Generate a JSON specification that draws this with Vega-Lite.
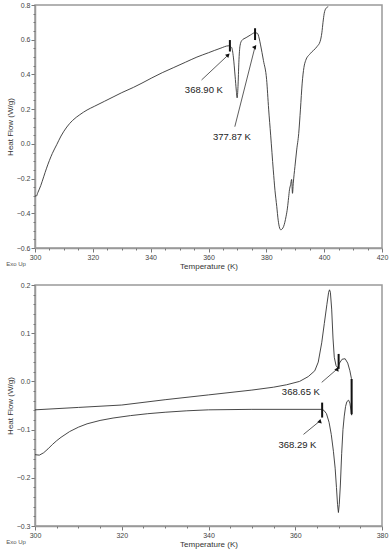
{
  "$schema": "https://vega.github.io/schema/vega-lite/v6.json",
  "background": "white",
  "padding": {"left": 5, "top": 0, "right": 6, "bottom": 1},
  "spacing": 9,
  "config": {
    "view": {"stroke": "#999", "strokeWidth": 1.5},
    "axis": {"labelFont": "Liberation Sans", "labelFontSize": 7, "labelColor": "#444", "titleFont": "Liberation Sans", "titleFontSize": 8, "titleFontWeight": "normal", "titleColor": "#333", "domainColor": "#999", "domainWidth": 1.5, "tickColor": "#777", "grid": false, "labelPadding": 1, "titlePadding": 2, "labelOverlap": false, "labelFlush": false}
  },
  "vconcat": [
    {
      "width": 347, "height": 243,
      "title": {"text": "Exo Up", "orient": "bottom", "anchor": "start", "frame": "bounds", "fontSize": 6, "font": "Liberation Sans", "fontWeight": "normal", "color": "#555", "offset": -9},
      "resolve": {"axis": {"x": "independent", "y": "independent"}},
      "layer": [
        {
          "data": {"values": [
            {"i":0,"T":300,"hf":-0.30},{"i":1,"T":300.5,"hf":-0.30},{"i":2,"T":301,"hf":-0.28},{"i":3,"T":302,"hf":-0.24},{"i":4,"T":303,"hf":-0.19},{"i":5,"T":304,"hf":-0.14},{"i":6,"T":305,"hf":-0.095},{"i":7,"T":306,"hf":-0.055},{"i":8,"T":307.5,"hf":-0.005},{"i":9,"T":309,"hf":0.045},{"i":10,"T":311,"hf":0.097},{"i":11,"T":313,"hf":0.135},{"i":12,"T":315.5,"hf":0.168},{"i":13,"T":318,"hf":0.195},{"i":14,"T":320.5,"hf":0.216},{"i":15,"T":324,"hf":0.245},{"i":16,"T":327,"hf":0.27},{"i":17,"T":330,"hf":0.295},{"i":18,"T":334,"hf":0.325},{"i":19,"T":337,"hf":0.35},{"i":20,"T":340.4,"hf":0.38},{"i":21,"T":344,"hf":0.41},{"i":22,"T":348,"hf":0.44},{"i":23,"T":352,"hf":0.47},{"i":24,"T":356,"hf":0.5},{"i":25,"T":360,"hf":0.525},{"i":26,"T":364,"hf":0.55},{"i":27,"T":367,"hf":0.565},{"i":28,"T":368,"hf":0.555},{"i":29,"T":368.6,"hf":0.5},{"i":30,"T":369.2,"hf":0.39},{"i":31,"T":369.6,"hf":0.31},{"i":32,"T":369.9,"hf":0.265},{"i":33,"T":370.2,"hf":0.33},{"i":34,"T":370.5,"hf":0.47},{"i":35,"T":370.9,"hf":0.565},{"i":36,"T":371.5,"hf":0.595},{"i":37,"T":373,"hf":0.612},{"i":38,"T":374.5,"hf":0.627},{"i":39,"T":376,"hf":0.64},{"i":40,"T":376.9,"hf":0.637},{"i":41,"T":377.5,"hf":0.61},{"i":42,"T":378,"hf":0.57},{"i":43,"T":379,"hf":0.48},{"i":44,"T":380.1,"hf":0.37},{"i":45,"T":380.8,"hf":0.2},{"i":46,"T":381.5,"hf":0.05},{"i":47,"T":382.4,"hf":-0.15},{"i":48,"T":383.0,"hf":-0.27},{"i":49,"T":383.6,"hf":-0.36},{"i":50,"T":384.1,"hf":-0.44},{"i":51,"T":384.6,"hf":-0.485},{"i":52,"T":385.0,"hf":-0.495},{"i":53,"T":385.5,"hf":-0.49},{"i":54,"T":386.0,"hf":-0.475},{"i":55,"T":386.8,"hf":-0.42},{"i":56,"T":387.3,"hf":-0.37},{"i":57,"T":387.7,"hf":-0.31},{"i":58,"T":388.0,"hf":-0.265},{"i":59,"T":388.4,"hf":-0.235},{"i":60,"T":388.75,"hf":-0.205},{"i":61,"T":389.05,"hf":-0.285},{"i":62,"T":389.3,"hf":-0.23},{"i":63,"T":389.9,"hf":-0.13},{"i":64,"T":390.5,"hf":-0.035},{"i":65,"T":391.2,"hf":0.06},{"i":66,"T":391.8,"hf":0.2},{"i":67,"T":392.4,"hf":0.35},{"i":68,"T":393.0,"hf":0.44},{"i":69,"T":393.6,"hf":0.48},{"i":70,"T":395.2,"hf":0.52},{"i":71,"T":397.5,"hf":0.56},{"i":72,"T":398.6,"hf":0.59},{"i":73,"T":399.2,"hf":0.64},{"i":74,"T":399.6,"hf":0.70},{"i":75,"T":400.0,"hf":0.75},{"i":76,"T":400.6,"hf":0.78},{"i":77,"T":401.4,"hf":0.79}
          ]},
          "mark": {"type": "line", "color": "#333", "strokeWidth": 0.9, "interpolate": "monotone"},
          "encoding": {
            "x": {"field": "T", "type": "quantitative", "scale": {"domain": [300, 420], "nice": false, "zero": false},
              "axis": {"title": "Temperature (K)", "format": "d", "orient": "bottom", "values": [300,320,340,360,380,400,420], "tickSize": 4}},
            "y": {"field": "hf", "type": "quantitative", "scale": {"domain": [-0.6, 0.8], "nice": false, "zero": false},
              "axis": {"title": "Heat Flow (W/g)", "format": ".1f", "orient": "left", "values": [-0.6,-0.4,-0.2,0,0.2,0.4,0.6,0.8], "tickSize": 4}},
            "order": {"field": "i", "type": "quantitative"}
          }
        },
        {
          "data": {"values": [{"T": 367.4, "lo": 0.532, "hi": 0.598}, {"T": 376.1, "lo": 0.598, "hi": 0.666}]},
          "mark": {"type": "rule", "color": "#111", "strokeWidth": 2},
          "encoding": {
            "x": {"field": "T", "type": "quantitative", "axis": {"orient": "bottom", "title": null, "labels": false, "domain": false, "tickSize": 2, "values": [305,310,315,325,330,335,345,350,355,365,370,375,385,390,395,405,410,415]}},
            "y": {"field": "lo", "type": "quantitative", "axis": {"orient": "left", "title": null, "labels": false, "domain": false, "tickSize": 2, "values": [-0.55,-0.5,-0.45,-0.35,-0.3,-0.25,-0.15,-0.1,-0.05,0.05,0.1,0.15,0.25,0.3,0.35,0.45,0.5,0.55,0.65,0.7,0.75]}},
            "y2": {"field": "hi"}
          }
        },
        {
          "data": {"values": [
            {"label": "368.90 K", "tx": 358.4, "ty": 0.31, "x1": 357.6, "y1": 0.368, "x2": 366.8, "y2": 0.512},
            {"label": "377.87 K", "tx": 368.1, "ty": 0.04, "x1": 369.1, "y1": 0.099, "x2": 376.1, "y2": 0.56}
          ]},
          "layer": [
            {"mark": {"type": "rule", "color": "#333", "strokeWidth": 0.8},
             "encoding": {"x": {"field": "x1", "type": "quantitative", "axis": null}, "y": {"field": "y1", "type": "quantitative", "axis": null}, "x2": {"field": "x2"}, "y2": {"field": "y2"}}},
            {"mark": {"type": "point", "shape": "triangle-up", "filled": true, "color": "#111", "size": 22, "opacity": 1},
             "encoding": {"x": {"field": "x2", "type": "quantitative", "axis": null}, "y": {"field": "y2", "type": "quantitative", "axis": null},
               "angle": {"field": "label", "type": "nominal", "scale": {"domain": ["368.90 K", "377.87 K"], "range": [47, 14]}, "legend": null}}},
            {"mark": {"type": "text", "font": "Liberation Sans", "fontSize": 9.5, "color": "#222"},
             "encoding": {"x": {"field": "tx", "type": "quantitative", "axis": null}, "y": {"field": "ty", "type": "quantitative", "axis": null}, "text": {"field": "label"}}}
          ]
        }
      ]
    },
    {
      "width": 347, "height": 241,
      "title": {"text": "Exo Up", "orient": "bottom", "anchor": "start", "frame": "bounds", "fontSize": 6, "font": "Liberation Sans", "fontWeight": "normal", "color": "#555", "offset": -9},
      "resolve": {"axis": {"x": "independent", "y": "independent"}},
      "layer": [
        {
          "data": {"values": [
            {"i":0,"T":300,"hf":-0.059},{"i":1,"T":310,"hf":-0.054},{"i":2,"T":320,"hf":-0.049},{"i":3,"T":330,"hf":-0.038},{"i":4,"T":340,"hf":-0.028},{"i":5,"T":350,"hf":-0.018},{"i":6,"T":355,"hf":-0.012},{"i":7,"T":358,"hf":-0.007},{"i":8,"T":361,"hf":0.0},{"i":9,"T":363,"hf":0.01},{"i":10,"T":364.5,"hf":0.022},{"i":11,"T":365.3,"hf":0.04},{"i":12,"T":366.1,"hf":0.08},{"i":13,"T":366.7,"hf":0.12},{"i":14,"T":367.3,"hf":0.16},{"i":15,"T":367.7,"hf":0.185},{"i":16,"T":367.9,"hf":0.19},{"i":17,"T":368.1,"hf":0.185},{"i":18,"T":368.4,"hf":0.15},{"i":19,"T":368.7,"hf":0.09},{"i":20,"T":369.0,"hf":0.05},{"i":21,"T":369.4,"hf":0.033},{"i":22,"T":369.8,"hf":0.028},{"i":23,"T":370.2,"hf":0.038},{"i":24,"T":370.8,"hf":0.046},{"i":25,"T":371.5,"hf":0.047},{"i":26,"T":372.1,"hf":0.038},{"i":27,"T":372.6,"hf":0.022},{"i":28,"T":372.95,"hf":0.006},{"i":29,"T":373.0,"hf":-0.07},{"i":30,"T":372.85,"hf":-0.06},{"i":31,"T":372.6,"hf":-0.045},{"i":32,"T":372.3,"hf":-0.039},{"i":33,"T":371.9,"hf":-0.042},{"i":34,"T":371.6,"hf":-0.052},{"i":35,"T":371.3,"hf":-0.072},{"i":36,"T":371.0,"hf":-0.1},{"i":37,"T":370.7,"hf":-0.15},{"i":38,"T":370.4,"hf":-0.215},{"i":39,"T":370.15,"hf":-0.255},{"i":40,"T":369.95,"hf":-0.272},{"i":41,"T":369.75,"hf":-0.255},{"i":42,"T":369.5,"hf":-0.22},{"i":43,"T":369.2,"hf":-0.18},{"i":44,"T":368.8,"hf":-0.145},{"i":45,"T":368.3,"hf":-0.11},{"i":46,"T":367.8,"hf":-0.085},{"i":47,"T":367.2,"hf":-0.067},{"i":48,"T":366.6,"hf":-0.06},{"i":49,"T":366,"hf":-0.058},{"i":50,"T":350,"hf":-0.058},{"i":51,"T":340,"hf":-0.059},{"i":52,"T":335,"hf":-0.061},{"i":53,"T":330,"hf":-0.064},{"i":54,"T":326,"hf":-0.067},{"i":55,"T":322,"hf":-0.071},{"i":56,"T":318,"hf":-0.076},{"i":57,"T":315,"hf":-0.081},{"i":58,"T":312,"hf":-0.088},{"i":59,"T":310,"hf":-0.095},{"i":60,"T":308,"hf":-0.104},{"i":61,"T":306,"hf":-0.116},{"i":62,"T":305,"hf":-0.123},{"i":63,"T":304,"hf":-0.131},{"i":64,"T":303,"hf":-0.14},{"i":65,"T":302,"hf":-0.148},{"i":66,"T":301,"hf":-0.153},{"i":67,"T":300,"hf":-0.152}
          ]},
          "mark": {"type": "line", "color": "#333", "strokeWidth": 0.9},
          "encoding": {
            "x": {"field": "T", "type": "quantitative", "scale": {"domain": [300, 380], "nice": false, "zero": false},
              "axis": {"title": "Temperature (K)", "format": "d", "orient": "bottom", "values": [300,320,340,360,380], "tickSize": 4}},
            "y": {"field": "hf", "type": "quantitative", "scale": {"domain": [-0.3, 0.2], "nice": false, "zero": false},
              "axis": {"title": "Heat Flow (W/g)", "format": ".1f", "orient": "left", "values": [-0.3,-0.2,-0.1,0,0.1,0.2], "tickSize": 4}},
            "order": {"field": "i", "type": "quantitative"}
          }
        },
        {
          "data": {"values": [{"T": 370.0, "lo": 0.026, "hi": 0.057}, {"T": 366.2, "lo": -0.075, "hi": -0.044}, {"T": 373.0, "lo": -0.068, "hi": 0.005}]},
          "mark": {"type": "rule", "color": "#111", "strokeWidth": 2},
          "encoding": {
            "x": {"field": "T", "type": "quantitative", "axis": {"orient": "bottom", "title": null, "labels": false, "domain": false, "tickSize": 2, "values": [305,310,315,325,330,335,345,350,355,365,370,375]}},
            "y": {"field": "lo", "type": "quantitative", "axis": {"orient": "left", "title": null, "labels": false, "domain": false, "tickSize": 2, "values": [-0.28,-0.26,-0.24,-0.22,-0.18,-0.16,-0.14,-0.12,-0.08,-0.06,-0.04,-0.02,0.02,0.04,0.06,0.08,0.12,0.14,0.16,0.18]}},
            "y2": {"field": "hi"}
          }
        },
        {
          "data": {"values": [
            {"label": "368.65 K", "tx": 361.3, "ty": -0.021, "x1": 366.1, "y1": -0.002, "x2": 369.7, "y2": 0.026},
            {"label": "368.29 K", "tx": 360.5, "ty": -0.131, "x1": 361.9, "y1": -0.11, "x2": 365.7, "y2": -0.082}
          ]},
          "layer": [
            {"mark": {"type": "rule", "color": "#333", "strokeWidth": 0.8},
             "encoding": {"x": {"field": "x1", "type": "quantitative", "axis": null}, "y": {"field": "y1", "type": "quantitative", "axis": null}, "x2": {"field": "x2"}, "y2": {"field": "y2"}}},
            {"mark": {"type": "point", "shape": "triangle-up", "filled": true, "color": "#111", "size": 22, "opacity": 1},
             "encoding": {"x": {"field": "x2", "type": "quantitative", "axis": null}, "y": {"field": "y2", "type": "quantitative", "axis": null},
               "angle": {"field": "label", "type": "nominal", "scale": {"domain": ["368.65 K", "368.29 K"], "range": [50, 51]}, "legend": null}}},
            {"mark": {"type": "text", "font": "Liberation Sans", "fontSize": 9.5, "color": "#222"},
             "encoding": {"x": {"field": "tx", "type": "quantitative", "axis": null}, "y": {"field": "ty", "type": "quantitative", "axis": null}, "text": {"field": "label"}}}
          ]
        }
      ]
    }
  ]
}
